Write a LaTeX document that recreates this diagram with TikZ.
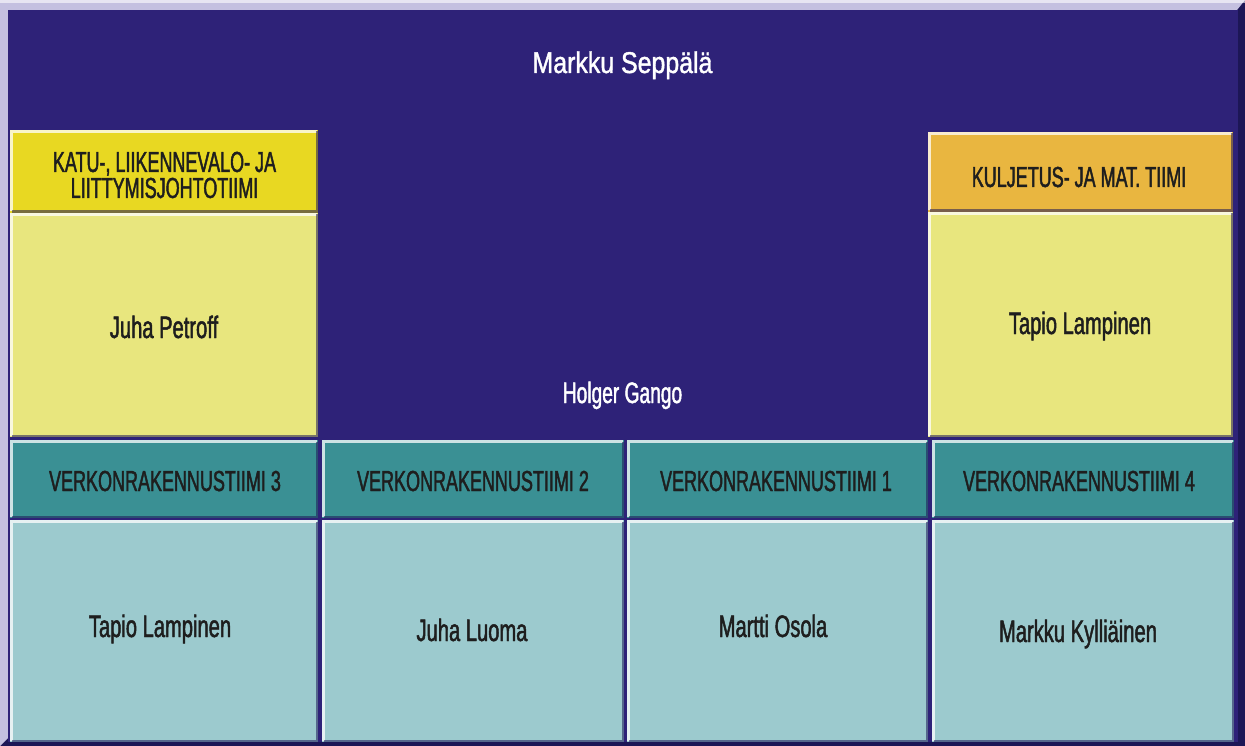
\documentclass[tikz,border=0pt]{standalone}
\usepackage{fontspec}
\setmainfont{Liberation Sans}[FakeStretch=0.65,FakeBold=1.5]
\newfontfamily\capsfont{Liberation Sans}[FakeStretch=0.62,FakeBold=1.5]
\newfontfamily\titlefont{Liberation Sans}[FakeStretch=0.83,FakeBold=1.3]
\definecolor{navy}{HTML}{2E2278}
\definecolor{navydark}{HTML}{1C1656}
\definecolor{frame}{HTML}{C4C0E0}
\definecolor{yhead}{HTML}{E8D822}
\definecolor{ybody}{HTML}{E8E67E}
\definecolor{ohead}{HTML}{E9B640}
\definecolor{thead}{HTML}{3A9094}
\definecolor{tbody}{HTML}{9CCACE}
\definecolor{ink}{HTML}{1E1E1E}
\newcommand\mybevel[1]{%
  \draw[line width=3pt,white,opacity=0.75]
    ([shift={(1.5,-1.5)}]#1.south west) -- ([shift={(1.5,1.5)}]#1.north west) -- ([shift={(-1.5,1.5)}]#1.north east);
  \draw[line width=2.5pt,navydark,opacity=0.55]
    ([shift={(-1.25,1.5)}]#1.north east) -- ([shift={(-1.25,-1.25)}]#1.south east) -- ([shift={(1.5,-1.25)}]#1.south west);
}
\tikzset{
  box/.style={inner sep=0pt,outer sep=0pt,draw=none},
  capsbase/.style={inner sep=0pt,text=ink,font=\capsfont\fontsize{29}{26}\selectfont},
  caps/.style={capsbase,anchor=base,text height=20pt,text depth=1pt},
  person/.style={inner sep=0pt,anchor=base,text=ink,font=\fontsize{31}{33}\selectfont},
  whitetext/.style={inner sep=0pt,anchor=base,text=white,font=\fontsize{29.5}{31}\selectfont},
}
\begin{document}
\begin{tikzpicture}[x=1pt,y=-1pt]
\useasboundingbox (0,0) rectangle (1245,746);
% outer frame
\fill[navydark] (0,0) rectangle (1245,746);
\fill[frame] (0,0) -- (1245,0) -- (1237,10) -- (8,10) -- (8,738) -- (0,746) -- cycle;
\fill[white,opacity=0.6] (0,0) rectangle (1245,3);
\fill[navy] (8,10) rectangle (1238,742);
% boxes
\node[box,fill=yhead,minimum width=308,minimum height=83] (katu) at (164,171.5) {};
\node[box,fill=ybody,minimum width=308,minimum height=224] (petroffbox) at (164,325) {};
\node[box,fill=ohead,minimum width=305,minimum height=80] (kulj) at (1080.5,172) {};
\node[box,fill=ybody,minimum width=305,minimum height=225] (lamp1box) at (1080.5,324.5) {};
\node[box,fill=thead,minimum width=308,minimum height=78] (v3) at (164,479) {};
\node[box,fill=thead,minimum width=302,minimum height=78] (v2) at (473,479) {};
\node[box,fill=thead,minimum width=301,minimum height=78] (v1) at (777.5,479) {};
\node[box,fill=thead,minimum width=302,minimum height=78] (v4) at (1083,479) {};
\node[box,fill=tbody,minimum width=308,minimum height=222] (lamp2box) at (164,631) {};
\node[box,fill=tbody,minimum width=302,minimum height=222] (luomabox) at (473,631) {};
\node[box,fill=tbody,minimum width=301,minimum height=222] (osolabox) at (777.5,631) {};
\node[box,fill=tbody,minimum width=302,minimum height=222] (kyllbox) at (1083,631) {};
\foreach \n in {katu,petroffbox,kulj,lamp1box,v3,v2,v1,v4,lamp2box,luomabox,osolabox,kyllbox}{\mybevel{\n}}
% white texts
\node[whitetext,font=\titlefont\fontsize{30}{32}\selectfont] (boss) at (622.5,73) {Markku Seppälä};
\node[whitetext] (holger) at (622.5,403) {Holger Gango};
% team headers
\node[capsbase,align=center] (katut) at (164.5,175) {KATU-, LIIKENNEVALO- JA\\LIITTYMISJOHTOTIIMI};
\node[caps] (kuljt) at (1079,187) {KULJETUS- JA MAT. TIIMI};
\node[caps] (v3t) at (165,491) {VERKONRAKENNUSTIIMI 3};
\node[caps] (v2t) at (473,491) {VERKONRAKENNUSTIIMI 2};
\node[caps] (v1t) at (776,491) {VERKONRAKENNUSTIIMI 1};
\node[caps] (v4t) at (1079,491) {VERKONRAKENNUSTIIMI 4};
% names
\node[person] (petroff) at (164,338) {Juha Petroff};
\node[person] (lamp1) at (1080,334) {Tapio Lampinen};
\node[person] (lamp2) at (160,637) {Tapio Lampinen};
\node[person] (luoma) at (472,641) {Juha Luoma};
\node[person] (osola) at (773,637) {Martti Osola};
\node[person] (kyll) at (1078,642) {Markku Kylliäinen};
\end{tikzpicture}
\end{document}
